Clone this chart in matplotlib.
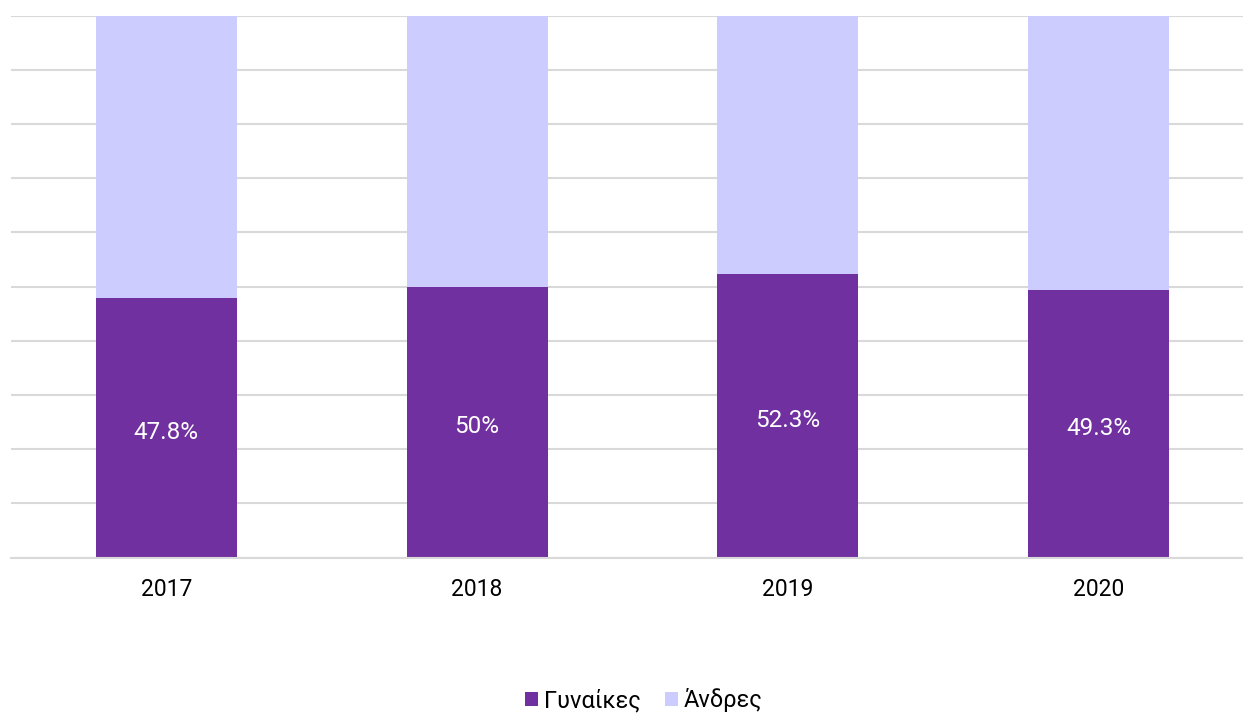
import matplotlib
matplotlib.use("Agg")
import matplotlib.pyplot as plt
import numpy as np

years = ["2017", "2018", "2019", "2020"]
women = [47.8, 50.0, 52.3, 49.3]
men = [100 - w for w in women]
labels = ["47.8%", "50%", "52.3%", "49.3%"]
series_names = ["Γυναίκες", "Άνδρες"]

plt.rcParams['font.family'] = ['Roboto', 'DejaVu Sans']

W, H = 1243, 714
fig = plt.figure(figsize=(W / 100, H / 100), dpi=100)
left_px, right_px, top_px, bot_px = 11, 1243, 15.5, 557.5
ax = fig.add_axes([left_px / W, (H - bot_px) / H, (right_px - left_px) / W, (bot_px - top_px) / H])

x = np.arange(len(years))
bw = 0.454
c_w = "#7030A0"
c_m = "#CCCCFF"
ax.bar(x, women, bw, color=c_w, label=series_names[0], zorder=2)
ax.bar(x, men, bw, bottom=women, color=c_m, label=series_names[1], zorder=2)

for xi, w, lab in zip(x, women, labels):
    ax.text(xi, w / 2 - 0.8, lab, ha="center", va="center", color="white",
            fontsize=17.5)

step = 310.7
ax.set_xlim(-0.5, -0.5 + (right_px - left_px) / step)
ax.set_ylim(0, 100)
ax.set_yticks(np.arange(0, 101, 10))
ax.yaxis.grid(True, color="#D9D9D9", linewidth=1.5, zorder=0)
ax.set_axisbelow(True)
ax.tick_params(axis="y", left=False, labelleft=False)
ax.tick_params(axis="x", length=0, labelsize=16.5, pad=15)
ax.set_xticks(x)
ax.set_xticklabels(years)
for s in ["top", "right", "left"]:
    ax.spines[s].set_visible(False)
ax.spines["bottom"].set_color("#D9D9D9")
ax.spines["bottom"].set_linewidth(1.5)

fig.legend(loc="center", bbox_to_anchor=(644 / W, 1 - 700 / H), ncol=2, frameon=False,
           fontsize=17, handlelength=0.55, handleheight=0.55, handletextpad=0.25,
           columnspacing=1.0)

fig.savefig("out.png", dpi=100)
